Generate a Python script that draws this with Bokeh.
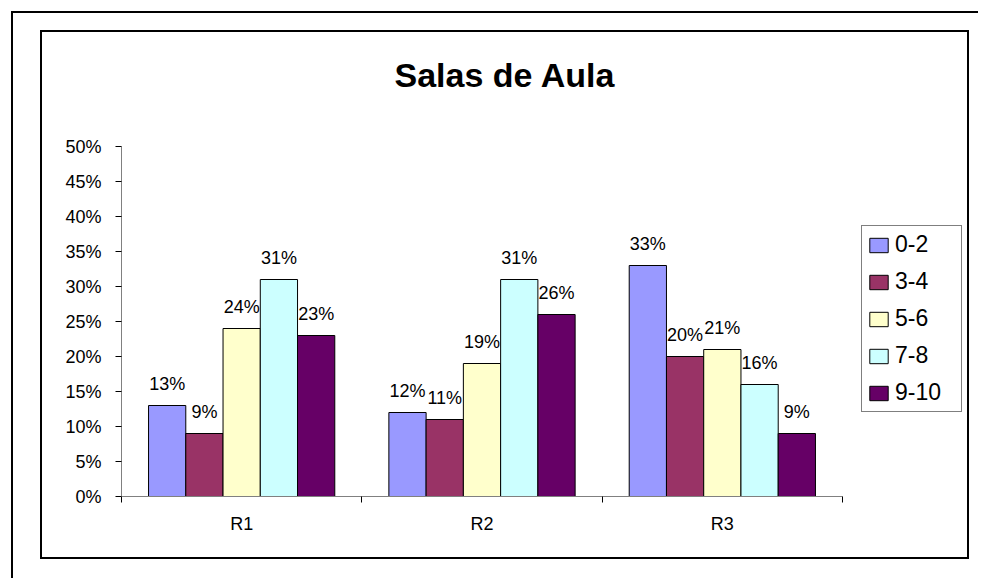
from bokeh.plotting import figure
from bokeh.models import (ColumnDataSource, Range1d, FixedTicker, NumeralTickFormatter,
                          Legend, LegendItem, InlineStyleSheet)
from bokeh.transform import dodge
from bokeh.core.properties import value
from bokeh.embed import file_html
from bokeh.resources import INLINE

# ---------------- data ----------------
chart_title = "Salas de Aula"
regions = ["R1", "R2", "R3"]
series_names = ["0-2", "3-4", "5-6", "7-8", "9-10"]
s_0_2 = [13, 12, 33]
s_3_4 = [9, 11, 20]
s_5_6 = [24, 19, 21]
s_7_8 = [31, 31, 16]
s_9_10 = [23, 26, 9]
y_ticks_pct = [0, 5, 10, 15, 20, 25, 30, 35, 40, 45, 50]
series_values = [s_0_2, s_3_4, s_5_6, s_7_8, s_9_10]
colors = ["#9999FF", "#993366", "#FFFFCC", "#CCFFFF", "#660066"]

FONT = "Liberation Sans"
W, H = 978, 578
AX_L, AX_R, AX_T, AX_B = 121, 842, 146, 496   # axes box in pixels
FRAME_R = 965                                   # frame extends right to hold the legend

css = InlineStyleSheet(css="""
:host::before { content: ""; position: absolute; left: 11px; top: 11px; right: 0; bottom: 0;
  border-left: 2px solid #000; border-top: 2px solid #000; pointer-events: none; z-index: 10; }
:host::after { content: ""; position: absolute; left: 40px; top: 30px; width: 929px; height: 529px;
  box-sizing: border-box; border: 2px solid #000; pointer-events: none; z-index: 10; }
""")

n = len(regions)
x_end = n * (FRAME_R - AX_L) / (AX_R - AX_L)

p = figure(width=W, height=H, x_range=Range1d(0, x_end), y_range=Range1d(0, 0.5),
           output_backend="svg", toolbar_location=None,
           min_border_left=AX_L, min_border_right=W - FRAME_R, min_border_top=AX_T,
           min_border_bottom=H - AX_B,
           outline_line_color=None, border_fill_color=None, background_fill_color=None,
           stylesheets=[css], title=chart_title)

p.xgrid.visible = False
p.ygrid.visible = False

# title
p.title.text_font = FONT
p.title.text_font_size = "34px"
p.title.text_font_style = "bold"
p.title.text_color = "black"
p.title.align = "left"
p.title.offset = 273
p.title.standoff = 106

# x axis
centers = [i + 0.5 for i in range(n)]
xa = p.xaxis[0]
xa.bounds = (0, n)
xa.ticker = FixedTicker(ticks=centers, minor_ticks=list(range(n + 1)))
xa.major_label_overrides = {c: r for c, r in zip(centers, regions)}
xa.major_tick_line_color = None
xa.major_tick_out = 0
xa.major_tick_in = 0
xa.minor_tick_out = 6
xa.minor_tick_in = 0
xa.minor_tick_line_color = "black"
xa.axis_line_color = "#808080"
xa.major_label_standoff = 11
xa.major_label_text_font = FONT
xa.major_label_text_font_size = "18px"
xa.major_label_text_color = "black"

# y axis
ya = p.yaxis[0]
ya.ticker = FixedTicker(ticks=[t / 100 for t in y_ticks_pct])
ya.formatter = NumeralTickFormatter(format="0%")
ya.major_tick_out = 6
ya.major_tick_in = 0
ya.minor_tick_line_color = None
ya.major_tick_line_color = "black"
ya.axis_line_color = "#808080"
ya.major_label_standoff = 14
ya.major_label_text_font = FONT
ya.major_label_text_font_size = "18px"
ya.major_label_text_color = "black"

bw = 0.155
items = []
for i, (name, vals, col) in enumerate(zip(series_names, series_values, colors)):
    src = ColumnDataSource(data=dict(
        x=centers,
        top=[v / 100 for v in vals],
        label=[f"{v}%" for v in vals],
    ))
    off = (i - 2) * bw
    r = p.vbar(x=dodge("x", off), top="top", width=bw, source=src,
               fill_color=col, line_color="black", line_width=1)
    p.text(x=dodge("x", off), y="top", text="label", source=src,
           text_align="center", text_baseline="alphabetic", y_offset=-22,
           text_font=value(FONT), text_font_size="18px", text_color="black")
    items.append(LegendItem(label=name, renderers=[r]))

legend = Legend(items=items, location=(740, 84),
                label_text_font=FONT, label_text_font_size="23px", label_text_color="black",
                glyph_width=23, glyph_height=18, label_height=25, label_width=61,
                label_standoff=5, spacing=10, padding=5, margin=0,
                border_line_color="#000000", border_line_width=1,
                background_fill_color="white", background_fill_alpha=1.0)
p.add_layout(legend)

open("out.html", "w").write(file_html(p, INLINE))
